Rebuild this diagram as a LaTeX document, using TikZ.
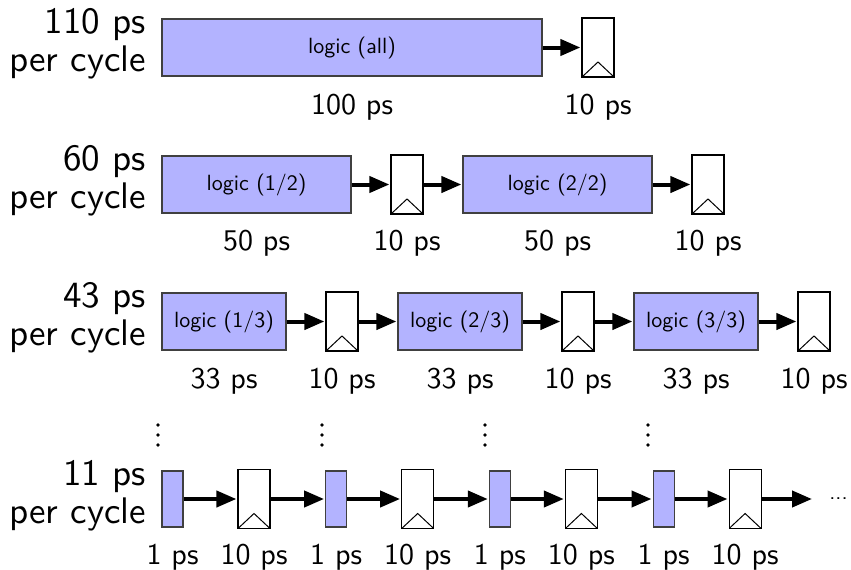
\documentclass[tikz,border=0pt]{standalone}
\usepackage{fontspec}
\setsansfont{lmsans10-regular.otf}
\usetikzlibrary{arrows.meta}
\definecolor{logicblue}{RGB}{179,179,255}

\begin{document}
\begin{tikzpicture}[x=1pt, y=-1pt]
		\tikzset{inner sep=0pt, font=\sffamily,
			logic/.style = {shape=rectangle, draw=black!75, fill=logicblue, line width=1.2pt, minimum height=57pt, font=\sffamily\fontsize{22}{26}\selectfont},
			reg/.style = {shape=rectangle, draw=black, fill=white, line width=1.2pt, minimum width=32pt, minimum height=59pt,
				path picture={\draw[line width=1pt] (path picture bounding box.south west) -- ([yshift=15pt]path picture bounding box.south) -- (path picture bounding box.south east);}},
			timelabel/.style = {anchor=base, font=\sffamily\fontsize{30}{36}\selectfont},
			perlabel/.style = {anchor=east, align=right, font=\sffamily\fontsize{37}{38}\selectfont},
			moredots/.style = {minimum width=4pt, minimum height=26pt,
				path picture={\fill (path picture bounding box.center) circle (1.8pt) ++(0,-10) circle (1.8pt) ++(0,20) circle (1.8pt);}},
			wire/.style = {draw=black, line width=4pt, -{Triangle[length=20pt, width=16pt]}, shorten >=1pt}}
		\useasboundingbox (0,0) rectangle (851,570);
		% one stage
		\node[perlabel] (c1) at (146, 43.8) {110 ps\\per cycle};
		\node[logic, minimum width=380pt] (l1a) at (352, 47.5) {logic (all)};
		\node[reg] (r1a) at (598, 47.5) {};
		\node[timelabel] (t1a) at (352, 114) {100 ps};
		\node[timelabel] (t1b) at (598, 114) {10 ps};
		\draw[wire] (l1a) -- (r1a);
		% two stages
		\node[perlabel] (c2) at (146, 180.8) {60 ps\\per cycle};
		\node[logic, minimum width=189pt] (l2a) at (256.5, 184.5) {logic (1/2)};
		\node[reg] (r2a) at (407, 184.5) {};
		\node[logic, minimum width=189pt] (l2b) at (557.5, 184.5) {logic (2/2)};
		\node[reg] (r2b) at (708, 184.5) {};
		\node[timelabel] (t2a) at (256.5, 250.5) {50 ps};
		\node[timelabel] (t2b) at (407, 250.5) {10 ps};
		\node[timelabel] (t2c) at (557.5, 250.5) {50 ps};
		\node[timelabel] (t2d) at (708, 250.5) {10 ps};
		\draw[wire] (l2a) -- (r2a);
		\draw[wire] (r2a) -- (l2b);
		\draw[wire] (l2b) -- (r2b);
		% three stages
		\node[perlabel] (c3) at (146, 317.8) {43 ps\\per cycle};
		\node[logic, minimum width=124pt] (l3a) at (224, 321.5) {logic (1/3)};
		\node[reg] (r3a) at (342, 321.5) {};
		\node[logic, minimum width=124pt] (l3b) at (460, 321.5) {logic (2/3)};
		\node[reg] (r3b) at (578, 321.5) {};
		\node[logic, minimum width=124pt] (l3c) at (696, 321.5) {logic (3/3)};
		\node[reg] (r3c) at (814, 321.5) {};
		\node[timelabel] (t3a) at (224, 388) {33 ps};
		\node[timelabel] (t3b) at (342, 388) {10 ps};
		\node[timelabel] (t3c) at (460, 388) {33 ps};
		\node[timelabel] (t3d) at (578, 388) {10 ps};
		\node[timelabel] (t3e) at (696, 388) {33 ps};
		\node[timelabel] (t3f) at (814, 388) {10 ps};
		\draw[wire] (l3a) -- (r3a);
		\draw[wire] (r3a) -- (l3b);
		\draw[wire] (l3b) -- (r3b);
		\draw[wire] (r3b) -- (l3c);
		\draw[wire] (l3c) -- (r3c);
		% dots
		\node[moredots] (d1) at (158, 435) {};
		\node[moredots] (d2) at (322, 435) {};
		\node[moredots] (d3) at (485, 435) {};
		\node[moredots] (d4) at (648, 435) {};
		% many stages
		\node[perlabel] (c4) at (146, 495.3) {11 ps\\per cycle};
		\node[logic, minimum width=21pt, minimum height=56pt] (l4a) at (172.5, 499) {};
		\node[reg] (r4a) at (254, 499) {};
		\node[logic, minimum width=21pt, minimum height=56pt] (l4b) at (336.2, 499) {};
		\node[reg] (r4b) at (417.7, 499) {};
		\node[logic, minimum width=21pt, minimum height=56pt] (l4c) at (499.9, 499) {};
		\node[reg] (r4c) at (581.4, 499) {};
		\node[logic, minimum width=21pt, minimum height=56pt] (l4d) at (663.6, 499) {};
		\node[reg] (r4d) at (745.1, 499) {};
		\coordinate (e4) at (813, 499);
		\node[font=\sffamily\fontsize{22}{26}\selectfont] (m4) at (838.5, 499) {...};
		\node[timelabel] (t4a) at (172.5, 564) {1 ps};
		\node[timelabel] (t4b) at (254, 564) {10 ps};
		\node[timelabel] (t4c) at (336.2, 564) {1 ps};
		\node[timelabel] (t4d) at (417.7, 564) {10 ps};
		\node[timelabel] (t4e) at (499.9, 564) {1 ps};
		\node[timelabel] (t4f) at (581.4, 564) {10 ps};
		\node[timelabel] (t4g) at (663.6, 564) {1 ps};
		\node[timelabel] (t4h) at (745.1, 564) {10 ps};
		\draw[wire] (l4a) -- (r4a);
		\draw[wire] (r4a) -- (l4b);
		\draw[wire] (l4b) -- (r4b);
		\draw[wire] (r4b) -- (l4c);
		\draw[wire] (l4c) -- (r4c);
		\draw[wire] (r4c) -- (l4d);
		\draw[wire] (l4d) -- (r4d);
		\draw[wire] (r4d) -- (e4);
\end{tikzpicture}
\end{document}
